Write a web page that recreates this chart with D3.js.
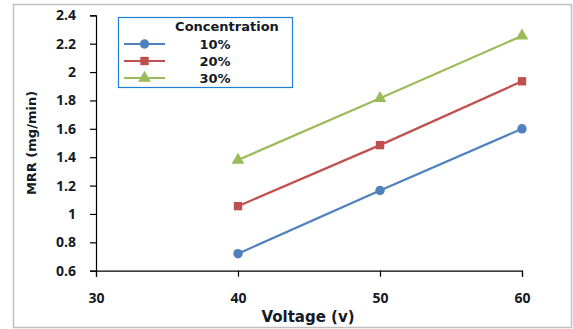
<!DOCTYPE html>
<html>
<head>
<meta charset="utf-8">
<script src="https://cdn.jsdelivr.net/npm/d3@7"></script>
<style>
  body { margin: 0; background: #fff; }
  svg text { font-family: "DejaVu Sans", sans-serif; font-weight: bold; fill: #141a26; }
  .tick text { font-family: "Open Sans", "DejaVu Sans", sans-serif; }
</style>
</head>
<body>
<svg></svg>
<script>
const width = 573;
const height = 329;

const voltages = [40, 50, 60];
const seriesNames = ["10%", "20%", "30%"];
const mrr10 = [0.72, 1.165, 1.60];
const mrr20 = [1.055, 1.485, 1.935];
const mrr30 = [1.38, 1.815, 2.255];
const xTicks = [30, 40, 50, 60];
const yTicks = [0.6, 0.8, 1, 1.2, 1.4, 1.6, 1.8, 2, 2.2, 2.4];

const colors = ["#4f81bd", "#c0504d", "#9bbb59"];
const shapes = [d3.symbolCircle, d3.symbolSquare, d3.symbolTriangle];
const series = [mrr10, mrr20, mrr30].map((vals, i) => ({
    name: seriesNames[i],
    values: vals.map((v, j) => ({ x: voltages[j], y: v }))
}));

const svg = d3.select("svg")
    .attr("width", width)
    .attr("height", height);

// outer chart border
svg.append("rect")
    .attr("x", 13.5).attr("y", 4.5)
    .attr("width", 558).attr("height", 323)
    .attr("fill", "#fff")
    .attr("stroke", "#bfbfbf")
    .attr("stroke-width", 1.5);

const x = d3.scaleLinear().domain([30, 60]).range([96, 522]);
const y = d3.scaleLinear().domain([0.6, 2.4]).range([270.7, 15.3]);

const xAxis = svg.append("g")
    .attr("transform", `translate(0,${y(0.6)})`)
    .call(d3.axisBottom(x).tickValues(xTicks).tickSize(6).tickPadding(16).tickFormat(d3.format("d")));
const yAxis = svg.append("g")
    .attr("transform", `translate(${x(30)},0)`)
    .call(d3.axisLeft(y).tickValues(yTicks).tickSize(6).tickPadding(14).tickFormat(d => d3.format("~g")(d)));

[xAxis, yAxis].forEach(a => {
    a.select(".domain").attr("stroke", "#000").attr("stroke-width", 1.2);
    a.selectAll(".tick line").attr("stroke", "#000").attr("stroke-width", 1.2);
    a.selectAll(".tick text").style("font-size", "14px").attr("fill", "#141a26");
});

svg.append("text")
    .attr("x", 308).attr("y", 322)
    .attr("text-anchor", "middle")
    .style("font-size", "15px")
    .text("Voltage (v)");

svg.append("text")
    .attr("transform", `translate(36,${y(1.5)}) rotate(-90)`)
    .attr("text-anchor", "middle")
    .style("font-size", "13px")
    .text("MRR (mg/min)");

const line = d3.line().x(d => x(d.x)).y(d => y(d.y));

series.forEach((s, i) => {
    svg.append("path")
        .datum(s.values)
        .attr("fill", "none")
        .attr("stroke", colors[i])
        .attr("stroke-width", 2.2)
        .attr("d", line);
    svg.selectAll(null)
        .data(s.values)
        .enter().append("path")
        .attr("transform", d => `translate(${x(d.x)},${y(d.y)})`)
        .attr("d", d3.symbol().type(shapes[i]).size(70))
        .attr("fill", colors[i]);
});

// legend
const legend = svg.append("g");
legend.append("rect")
    .attr("x", 118.5).attr("y", 17.5)
    .attr("width", 174).attr("height", 70)
    .attr("fill", "#fff")
    .attr("stroke", "#1f7fd6")
    .attr("stroke-width", 1.2);
legend.append("text")
    .attr("x", 227).attr("y", 31)
    .attr("text-anchor", "middle")
    .style("font-size", "13px")
    .text("Concentration");
series.forEach((s, i) => {
    const ly = 44 + i * 17;
    legend.append("line")
        .attr("x1", 124).attr("x2", 165)
        .attr("y1", ly).attr("y2", ly)
        .attr("stroke", colors[i]).attr("stroke-width", 2.2);
    legend.append("path")
        .attr("transform", `translate(144.5,${ly})`)
        .attr("d", d3.symbol().type(shapes[i]).size(70))
        .attr("fill", colors[i]);
    legend.append("text")
        .attr("x", 215).attr("y", ly + 5)
        .attr("text-anchor", "middle")
        .style("font-size", "13px")
        .text(s.name);
});
</script>
</body>
</html>
